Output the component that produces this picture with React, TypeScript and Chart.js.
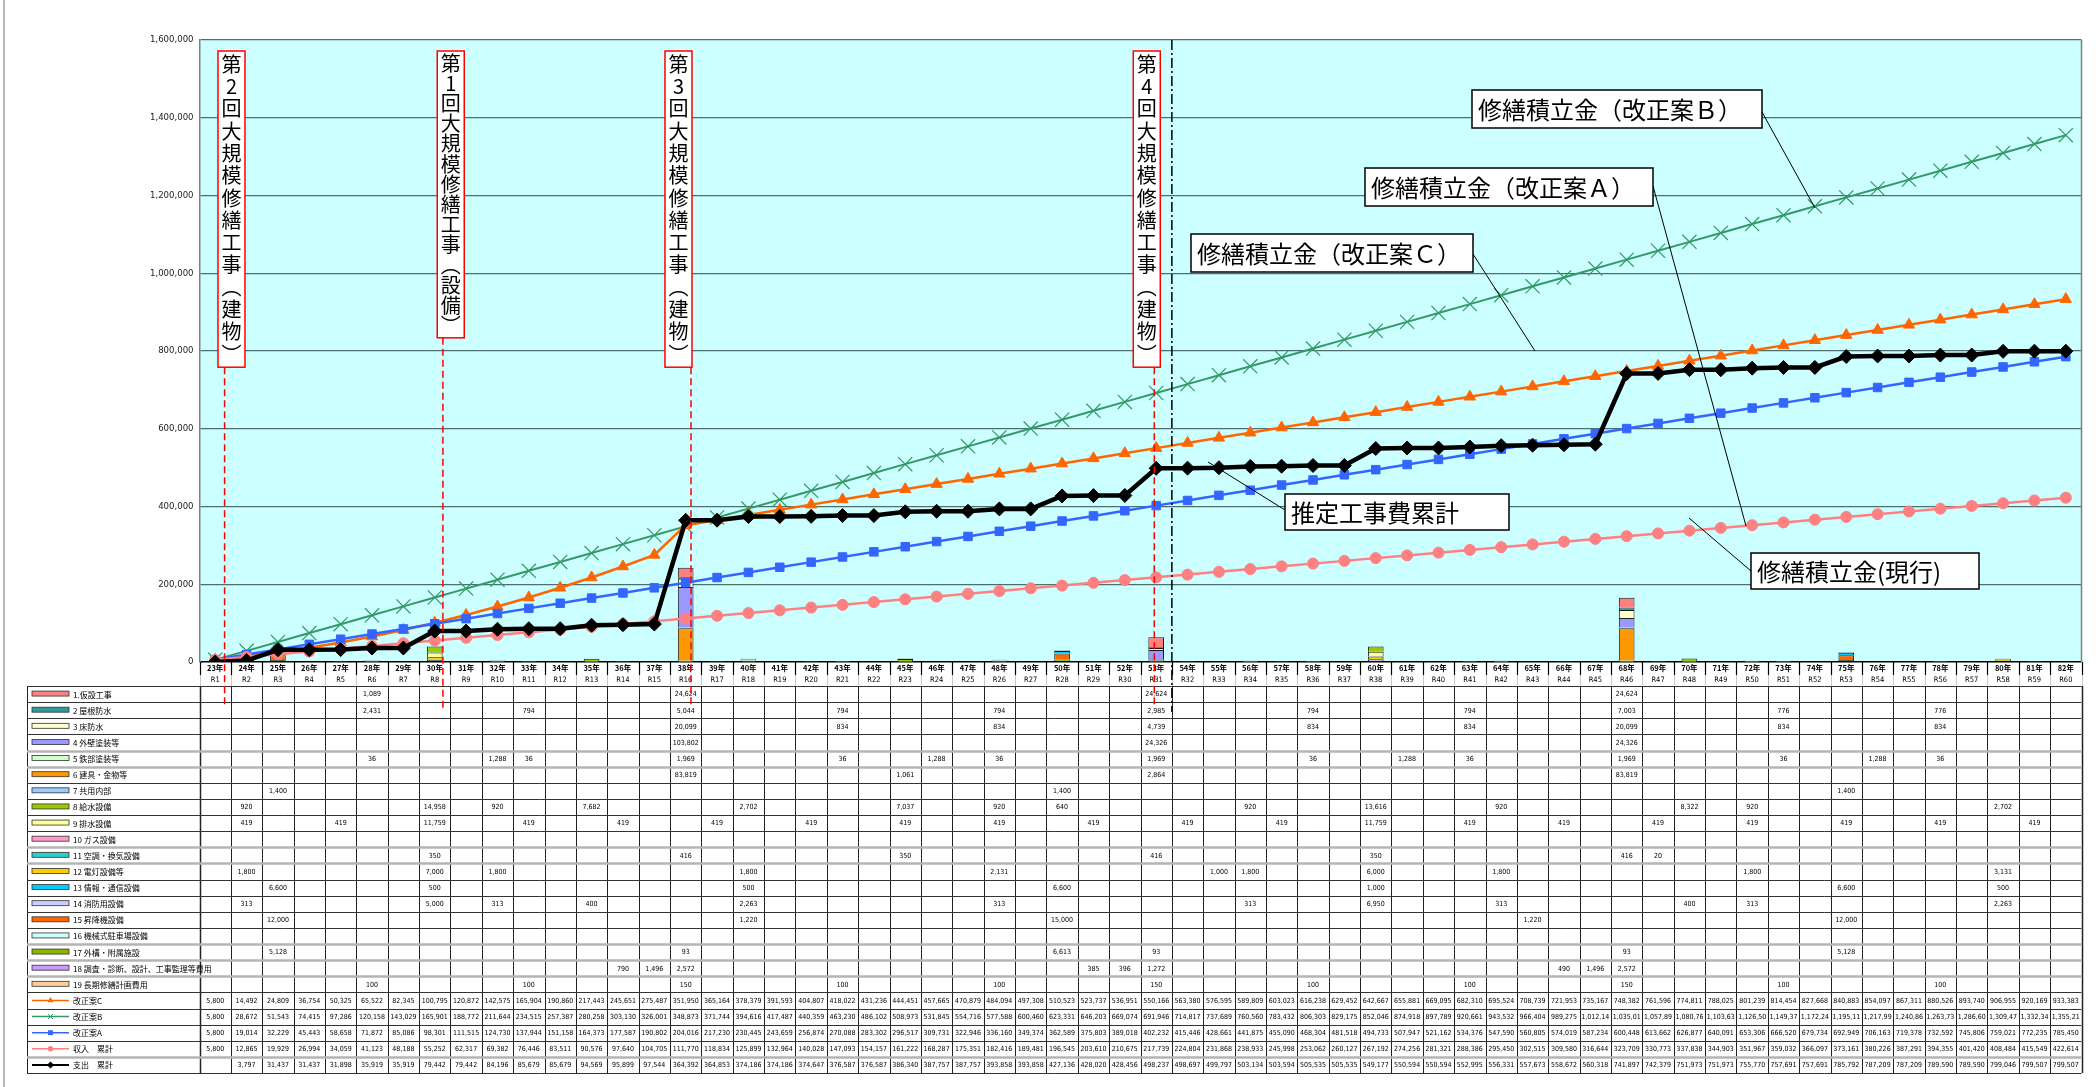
import React, { useEffect, useRef } from 'react';
import { Chart, registerables } from 'chart.js';

Chart.register(...registerables);

// ---------- categories ----------
const yearLabels = [
  '23年','24年','25年','26年','27年','28年','29年','30年','31年','32年',
  '33年','34年','35年','36年','37年','38年','39年','40年','41年','42年',
  '43年','44年','45年','46年','47年','48年','49年','50年','51年','52年',
  '53年','54年','55年','56年','57年','58年','59年','60年','61年','62年',
  '63年','64年','65年','66年','67年','68年','69年','70年','71年','72年',
  '73年','74年','75年','76年','77年','78年','79年','80年','81年','82年',
];
const reiwaLabels = [
  'R1','R2','R3','R4','R5','R6','R7','R8','R9','R10',
  'R11','R12','R13','R14','R15','R16','R17','R18','R19','R20',
  'R21','R22','R23','R24','R25','R26','R27','R28','R29','R30',
  'R31','R32','R33','R34','R35','R36','R37','R38','R39','R40',
  'R41','R42','R43','R44','R45','R46','R47','R48','R49','R50',
  'R51','R52','R53','R54','R55','R56','R57','R58','R59','R60',
];

// ---------- cost items: [R-number, value] ----------
const itemNames = [
  '1.仮設工事', '2 屋根防水', '3 床防水', '4 外壁塗装等', '5 鉄部塗装等',
  '6 建具・金物等', '7 共用内部', '8 給水設備', '9 排水設備', '10 ガス設備',
  '11 空調・換気設備', '12 電灯設備等', '13 情報・通信設備', '14 消防用設備', '15 昇降機設備',
  '16 機械式駐車場設備', '17 外構・附属施設', '18 調査・診断、設計、工事監理等費用', '19 長期修繕計画費用',
];
const itemColors = [
  '#FF8080', '#339999', '#FFFFCC', '#9999FF', '#CCFFCC',
  '#FF9900', '#99CCFF', '#99CC00', '#FFFF99', '#FF99CC',
  '#33CCCC', '#FFCC00', '#00CCFF', '#CCCCFF', '#FF6600',
  '#CCFFFF', '#88B800', '#CC99FF', '#FFCC99',
];
const item01: [number, number][] = [[6,1089],[16,24624],[31,24624],[46,24624]];
const item02: [number, number][] = [[6,2431],[11,794],[16,5044],[21,794],[26,794],[31,2985],[36,794],[41,794],[46,7003],[51,776],[56,776]];
const item03: [number, number][] = [[16,20099],[21,834],[26,834],[31,4739],[36,834],[41,834],[46,20099],[51,834],[56,834]];
const item04: [number, number][] = [[16,103802],[31,24326],[46,24326]];
const item05: [number, number][] = [[6,36],[10,1288],[11,36],[16,1969],[21,36],[24,1288],[26,36],[31,1969],[36,36],[39,1288],[41,36],[46,1969],[51,36],[54,1288],[56,36]];
const item06: [number, number][] = [[16,83819],[23,1061],[31,2864],[46,83819]];
const item07: [number, number][] = [[3,1400],[28,1400],[53,1400]];
const item08: [number, number][] = [[2,920],[8,14958],[10,920],[13,7682],[18,2702],[23,7037],[26,920],[28,640],[34,920],[38,13616],[42,920],[48,8322],[50,920],[58,2702]];
const item09: [number, number][] = [[2,419],[5,419],[8,11759],[11,419],[14,419],[17,419],[20,419],[23,419],[26,419],[29,419],[32,419],[35,419],[38,11759],[41,419],[44,419],[47,419],[50,419],[53,419],[56,419],[59,419]];
const item10: [number, number][] = [];
const item11: [number, number][] = [[8,350],[16,416],[23,350],[31,416],[38,350],[46,416],[47,20]];
const item12: [number, number][] = [[2,1800],[8,7000],[10,1800],[18,1800],[26,2131],[33,1000],[34,1800],[38,6000],[42,1800],[50,1800],[58,3131]];
const item13: [number, number][] = [[3,6600],[8,500],[18,500],[28,6600],[38,1000],[53,6600],[58,500]];
const item14: [number, number][] = [[2,313],[8,5000],[10,313],[13,400],[18,2263],[26,313],[34,313],[38,6950],[42,313],[48,400],[50,313],[58,2263]];
const item15: [number, number][] = [[3,12000],[18,1220],[28,15000],[43,1220],[53,12000]];
const item16: [number, number][] = [];
const item17: [number, number][] = [[3,5128],[16,93],[28,6613],[31,93],[46,93],[53,5128]];
const item18: [number, number][] = [[14,790],[15,1496],[16,2572],[29,385],[30,396],[31,1272],[44,490],[45,1496],[46,2572]];
const item19: [number, number][] = [[6,100],[11,100],[16,150],[21,100],[26,100],[31,150],[36,100],[41,100],[46,150],[51,100],[56,100]];
const items = [item01,item02,item03,item04,item05,item06,item07,item08,item09,item10,item11,item12,item13,item14,item15,item16,item17,item18,item19];

// ---------- cumulative series ----------
const planC = [5800,14492,24809,36754,50325,65522,82345,100795,120872,142575,165904,190860,217443,245651,275487,351950,365164,378379,391593,404807,418022,431236,444451,457665,470879,484094,497308,510523,523737,536951,550166,563380,576595,589809,603023,616238,629452,642667,655881,669095,682310,695524,708739,721953,735167,748382,761596,774811,788025,801239,814454,827668,840883,854097,867311,880526,893740,906955,920169,933383];
const planB = [5800,28672,51543,74415,97286,120158,143029,165901,188772,211644,234515,257387,280258,303130,326001,348873,371744,394616,417487,440359,463230,486102,508973,531845,554716,577588,600460,623331,646203,669074,691946,714817,737689,760560,783432,806303,829175,852046,874918,897789,920661,943532,966404,989275,1012147,1035018,1057890,1080761,1103633,1126504,1149376,1172247,1195119,1217990,1240862,1263733,1286605,1309476,1332348,1355219];
const planA = [5800,19014,32229,45443,58658,71872,85086,98301,111515,124730,137944,151158,164373,177587,190802,204016,217230,230445,243659,256874,270088,283302,296517,309731,322946,336160,349374,362589,375803,389018,402232,415446,428661,441875,455090,468304,481518,494733,507947,521162,534376,547590,560805,574019,587234,600448,613662,626877,640091,653306,666520,679734,692949,706163,719378,732592,745806,759021,772235,785450];
const incomeCum = [5800,12865,19929,26994,34059,41123,48188,55252,62317,69382,76446,83511,90576,97640,104705,111770,118834,125899,132964,140028,147093,154157,161222,168287,175351,182416,189481,196545,203610,210675,217739,224804,231868,238933,245998,253062,260127,267192,274256,281321,288386,295450,302515,309580,316644,323709,330773,337838,344903,351967,359032,366097,373161,380226,387291,394355,401420,408484,415549,422614];
const expenseCum = [0,3797,31437,31437,31898,35919,35919,79442,79442,84196,85679,85679,94569,95899,97544,364392,364853,374186,374186,374647,376587,376587,386340,387757,387757,393858,393858,427136,428020,428456,498237,498697,499797,503134,503594,505535,505535,549177,550594,550594,552995,556331,557673,558672,560318,741897,742379,751973,751973,755770,757691,757691,785792,787209,787209,789590,789590,799046,799507,799507];

const lineNames = ['改正案C', '改正案B', '改正案A', '収入　累計', '支出　累計'];
const lineColors = ['#FF6600', '#339966', '#3366FF', '#FF8080', '#000000'];
const lineMarkers = ['triangle', 'crossRot', 'rect', 'circle', 'rectRot'];

const yTicks = [0, 200000, 400000, 600000, 800000, 1000000, 1200000, 1400000, 1600000];

// milestone annotations: [label, category index]
const milestones: [string, number][] = [
  ['第2回大規模修繕工事︵建物︶', 0],
  ['第1回大規模修繕工事︵設備︶', 7],
  ['第3回大規模修繕工事︵建物︶', 15],
  ['第4回大規模修繕工事︵建物︶', 30],
];

const N = yearLabels.length;
const W = 2098;
const H = 1087;

function expand(sparse: [number, number][]) {
  const a: (number | null)[] = new Array(N).fill(null);
  sparse.forEach(([r, v]) => { a[r - 1] = v; });
  return a;
}

function fmt(v: number | null | undefined) {
  if (v === null || v === undefined || v === 0) return '';
  const s = v.toLocaleString('en-US');
  return s.length > 8 ? s.slice(0, 8) : s;
}

function marker(ctx: CanvasRenderingContext2D, style: string, x: number, y: number, r: number, color: string) {
  ctx.save();
  ctx.fillStyle = color;
  ctx.strokeStyle = color;
  ctx.lineWidth = 1;
  ctx.beginPath();
  if (style === 'triangle') {
    ctx.moveTo(x, y - r);
    ctx.lineTo(x + r * 0.87, y + r * 0.5);
    ctx.lineTo(x - r * 0.87, y + r * 0.5);
    ctx.closePath();
    ctx.fill();
  } else if (style === 'crossRot') {
    const d = r * 0.7;
    ctx.moveTo(x - d, y - d); ctx.lineTo(x + d, y + d);
    ctx.moveTo(x + d, y - d); ctx.lineTo(x - d, y + d);
    ctx.stroke();
  } else if (style === 'rect') {
    const d = r * 0.7;
    ctx.fillRect(x - d, y - d, 2 * d, 2 * d);
  } else if (style === 'circle') {
    ctx.arc(x, y, r * 0.8, 0, Math.PI * 2);
    ctx.fill();
  } else {
    ctx.moveTo(x, y - r); ctx.lineTo(x + r, y); ctx.lineTo(x, y + r); ctx.lineTo(x - r, y);
    ctx.closePath();
    ctx.fill();
  }
  ctx.restore();
}

const bgPlugin = {
  id: 'bgPlugin',
  beforeDraw(chart: any) {
    const { ctx, chartArea: ca } = chart;
    ctx.save();
    ctx.fillStyle = '#FFFFFF';
    ctx.fillRect(0, 0, chart.width, chart.height);
    ctx.fillStyle = '#CCFFFF';
    ctx.fillRect(ca.left, ca.top, ca.right - ca.left, ca.bottom - ca.top);
    ctx.restore();
  },
};

const tablePlugin = {
  id: 'tablePlugin',
  afterDraw(chart: any) {
    const ctx: CanvasRenderingContext2D = chart.ctx;
    const xs = chart.scales.x;
    const ca = chart.chartArea;
    const colW = (xs.right - xs.left) / N;
    const left = xs.left;
    const right = xs.right;
    const hdrTop = ca.bottom;
    const hdrMid = hdrTop + 13;
    const tblTop = hdrTop + 24;
    const rowH = 16.125;
    const nRows = 24;
    const tblBot = tblTop + rowH * nRows;
    const labelLeft = 27;

    ctx.save();
    // outer left frame line
    ctx.strokeStyle = '#A0A0A0';
    ctx.lineWidth = 1.5;
    ctx.beginPath(); ctx.moveTo(4, 0); ctx.lineTo(4, H); ctx.stroke();

    // plot right border
    ctx.strokeStyle = '#808080';
    ctx.lineWidth = 1.5;
    ctx.beginPath(); ctx.moveTo(right, ca.top); ctx.lineTo(right, ca.bottom); ctx.stroke();

    // header labels
    ctx.fillStyle = '#000';
    ctx.textAlign = 'center';
    ctx.textBaseline = 'middle';
    for (let i = 0; i < N; i++) {
      const cx = xs.getPixelForValue(i);
      ctx.font = "bold 7.5px 'Noto Sans CJK JP', sans-serif";
      ctx.fillText(yearLabels[i], cx, hdrTop + 6.5);
      ctx.font = "7.5px 'Liberation Sans Narrow', 'DejaVu Sans Condensed', sans-serif";
      ctx.fillText(reiwaLabels[i], cx, hdrMid + 5.5);
    }
    // vertical separators
    for (let i = 0; i <= N; i++) {
      const x = Math.round(left + i * colW) + 0.5;
      ctx.strokeStyle = '#000';
      ctx.lineWidth = 1.2;
      ctx.beginPath(); ctx.moveTo(x, hdrTop); ctx.lineTo(x, hdrMid); ctx.stroke();
      ctx.strokeStyle = '#C8C8C8';
      ctx.lineWidth = 1;
      ctx.beginPath(); ctx.moveTo(x, hdrMid); ctx.lineTo(x, tblTop); ctx.stroke();
      ctx.strokeStyle = '#222';
      ctx.lineWidth = (i === 0 || i === N) ? 1.5 : 1;
      ctx.beginPath(); ctx.moveTo(x, tblTop); ctx.lineTo(x, tblBot); ctx.stroke();
    }
    // label column left border
    ctx.strokeStyle = '#222';
    ctx.lineWidth = 1;
    ctx.beginPath(); ctx.moveTo(labelLeft + 0.5, tblTop); ctx.lineTo(labelLeft + 0.5, tblBot); ctx.stroke();

    // horizontal lines
    const grayLines = [4, 5, 10, 11, 16, 17, 18, 23];
    for (let r = 0; r <= nRows; r++) {
      const y = Math.round(tblTop + r * rowH) + 0.5;
      if (grayLines.includes(r)) {
        ctx.strokeStyle = '#B4B4B4';
        ctx.lineWidth = 2.5;
      } else {
        ctx.strokeStyle = '#333';
        ctx.lineWidth = 1;
      }
      ctx.beginPath(); ctx.moveTo(labelLeft, y); ctx.lineTo(right, y); ctx.stroke();
    }

    // rows content
    const rowValues: (number | null)[][] = items.map(expand);
    const lineRows = [planC, planB, planA, incomeCum, expenseCum];
    ctx.textBaseline = 'middle';
    for (let r = 0; r < nRows; r++) {
      const cy = tblTop + rowH * (r + 0.5);
      // legend swatch
      if (r < 19) {
        ctx.fillStyle = itemColors[r];
        ctx.fillRect(32, cy - 3, 37, 5);
        ctx.strokeStyle = '#333';
        ctx.lineWidth = 0.8;
        ctx.strokeRect(32, cy - 3, 37, 5);
      } else {
        const k = r - 19;
        ctx.strokeStyle = lineColors[k];
        ctx.lineWidth = k === 4 ? 2 : 1.5;
        ctx.beginPath(); ctx.moveTo(32, cy); ctx.lineTo(69, cy); ctx.stroke();
        marker(ctx, lineMarkers[k], 50.5, cy, 3.5, lineColors[k]);
      }
      ctx.fillStyle = '#000';
      ctx.textAlign = 'left';
      ctx.font = "8px 'Noto Sans CJK JP', sans-serif";
      const name = r < 19 ? itemNames[r] : lineNames[r - 19];
      ctx.fillText(name, 73, cy + 0.5);

      ctx.textAlign = 'center';
      ctx.font = "7px 'Liberation Sans Narrow', 'DejaVu Sans Condensed', sans-serif";
      const vals = r < 19 ? rowValues[r] : lineRows[r - 19];
      for (let i = 0; i < N; i++) {
        const t = fmt(vals[i] as number | null);
        if (t) ctx.fillText(t, xs.getPixelForValue(i), cy + 0.5);
      }
    }

    // ---------- annotations ----------
    // milestone dashed red lines + vertical text boxes
    const lineOffsets = [0.30, 0.26, 0.17, -0.06];
    const boxOffsets = [0.52, 0.51, -0.23, -0.30];
    const steps = [22.3, 20.2, 22.3, 22.3];
    milestones.forEach(([label, idx], m) => {
      const lx = xs.getPixelForValue(idx) + lineOffsets[m] * colW;
      const bx = xs.getPixelForValue(idx) + boxOffsets[m] * colW;
      const chars = Array.from(label);
      const boxTop = 51;
      const step = steps[m];
      const boxH = chars.length * step + 4;
      ctx.strokeStyle = '#FF0000';
      ctx.lineWidth = 1.5;
      ctx.setLineDash([7, 4]);
      ctx.beginPath(); ctx.moveTo(lx, boxTop + boxH); ctx.lineTo(lx, tblTop + 22); ctx.stroke();
      ctx.setLineDash([]);
      ctx.fillStyle = '#FFFFFF';
      ctx.fillRect(bx - 13.5, boxTop, 27, boxH);
      ctx.strokeStyle = '#FF0000';
      ctx.lineWidth = 1.5;
      ctx.strokeRect(bx - 13.5, boxTop, 27, boxH);
      ctx.fillStyle = '#000';
      ctx.textAlign = 'center';
      ctx.font = "20px 'Noto Sans CJK JP', sans-serif";
      chars.forEach((c, i) => ctx.fillText(c, bx, boxTop + 2 + step * (i + 0.5)));
    });

    // current-time dash-dot line (between R31 and R32)
    const nowX = xs.getPixelForValue(30) + colW / 2;
    ctx.strokeStyle = '#000';
    ctx.lineWidth = 1.5;
    ctx.setLineDash([10, 3, 2, 3]);
    ctx.beginPath(); ctx.moveTo(nowX, ca.top); ctx.lineTo(nowX, tblTop + 26); ctx.stroke();
    ctx.setLineDash([]);

    // callouts: [text, box x, box y, box w, box h, leader x1, y1, x2, y2]
    const callouts: [string, number, number, number, number, number, number, number, number][] = [
      ['修繕積立金（改正案Ｂ）', 1472, 90, 290, 38, 1762, 112, 1815, 208],
      ['修繕積立金（改正案Ａ）', 1365, 168, 288, 38, 1653, 186, 1746, 526],
      ['修繕積立金（改正案Ｃ）', 1191, 234, 282, 38, 1473, 254, 1535, 351],
      ['推定工事費累計', 1285, 494, 224, 36, 1208, 462, 1285, 510],
      ['修繕積立金(現行)', 1751, 553, 228, 36, 1689, 518, 1751, 571],
    ];
    callouts.forEach(([t, bx, by, bw, bh, x1, y1, x2, y2]) => {
      ctx.strokeStyle = '#000';
      ctx.lineWidth = 1;
      ctx.beginPath(); ctx.moveTo(x1, y1); ctx.lineTo(x2, y2); ctx.stroke();
      ctx.fillStyle = '#FFFFFF';
      ctx.fillRect(bx, by, bw, bh);
      ctx.lineWidth = 1.5;
      ctx.strokeRect(bx, by, bw, bh);
      ctx.fillStyle = '#000';
      ctx.textAlign = 'left';
      ctx.textBaseline = 'middle';
      ctx.font = "24px 'Noto Sans CJK JP', sans-serif";
      ctx.fillText(t, bx + 6, by + bh / 2 + 1);
    });

    ctx.restore();
  },
};

export default function App() {
  const ref = useRef<HTMLCanvasElement | null>(null);

  useEffect(() => {
    document.body.style.margin = '0';
    const canvas = ref.current;
    if (!canvas) return;

    const barSets = items
      .map((sp, k) => ({
        type: 'bar' as const,
        label: itemNames[k],
        data: expand(sp),
        backgroundColor: itemColors[k],
        borderColor: '#1a1a1a',
        borderWidth: 1,
        stack: 'cost',
        order: 30 - k,
        categoryPercentage: 1,
        barPercentage: 0.5,
      }));

    const lineSeries = [planC, planB, planA, incomeCum, expenseCum];
    const lineOrder = [3, 4, 2, 1, 0];
    const lineWidths = [2.5, 2, 2.5, 2.5, 4.5];
    const radii = [6.5, 10, 6, 5.5, 7];
    const lineSets = lineSeries.map((d, k) => ({
      type: 'line' as const,
      label: lineNames[k],
      data: d,
      borderColor: lineColors[k],
      backgroundColor: lineColors[k],
      borderWidth: lineWidths[k],
      pointStyle: lineMarkers[k] as any,
      pointRadius: radii[k],
      pointBorderWidth: k === 1 ? 1.2 : 1,
      pointBorderColor: lineColors[k],
      pointBackgroundColor: lineColors[k],
      fill: false,
      tension: 0,
      stack: 'line' + k,
      order: lineOrder[k],
    }));

    const chart = new Chart(canvas, {
      type: 'bar',
      data: {
        labels: yearLabels,
        datasets: [...lineSets, ...barSets] as any,
      },
      options: {
        responsive: false,
        animation: false,
        devicePixelRatio: 1,
        layout: { padding: { left: 0, right: 16.5, top: 40, bottom: 425 } },
        plugins: { legend: { display: false }, tooltip: { enabled: false } },
        scales: {
          x: {
            display: false,
            stacked: true,
            offset: true,
            grid: { display: false },
          },
          y: {
            stacked: true,
            min: 0,
            max: 1600000,
            afterFit: (s: any) => { s.width = 199.5; },
            afterBuildTicks: (s: any) => { s.ticks = yTicks.map((v) => ({ value: v })); },
            border: { display: true, color: '#808080', width: 1.5 },
            grid: {
              drawTicks: false,
              color: (c: any) => (c.tick && c.tick.value === 0 ? '#000000' : '#4F6F6F'),
              lineWidth: (c: any) => (c.tick && c.tick.value === 0 ? 1.5 : 1.2),
            },
            ticks: {
              padding: 6,
              color: '#222',
              font: { family: "'Liberation Sans Narrow', 'DejaVu Sans Condensed', sans-serif", size: 9.5 },
              callback: (v: any) => Number(v).toLocaleString('en-US'),
            },
          },
        },
      },
      plugins: [bgPlugin, tablePlugin],
    });

    return () => chart.destroy();
  }, []);

  return (
    <canvas
      ref={ref}
      width={W}
      height={H}
      style={{ width: W + 'px', height: H + 'px', display: 'block' }}
    />
  );
}
